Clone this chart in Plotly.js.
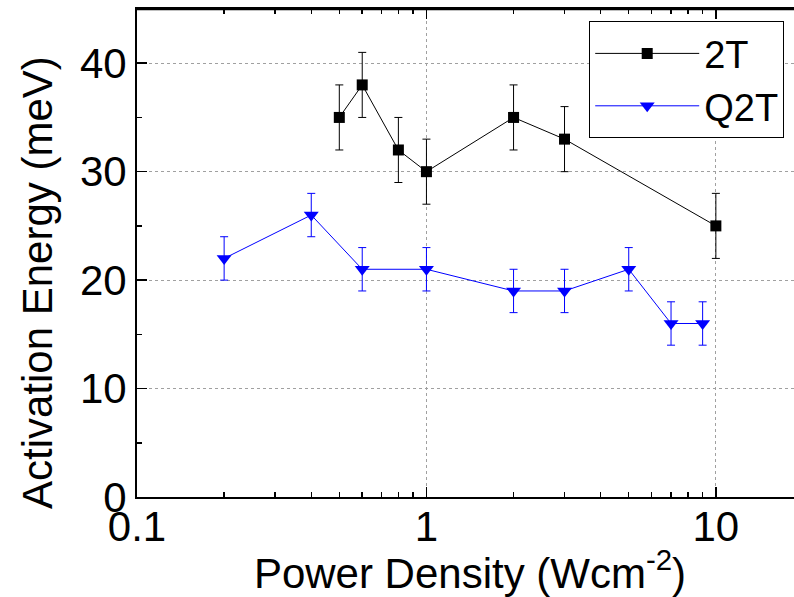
<!DOCTYPE html>
<html>
<head>
<meta charset="utf-8">
<script src="https://cdn.plot.ly/plotly-3.0.1.min.js"></script>
<style>html,body{margin:0;padding:0;overflow:hidden;background:#fff;}</style>
</head>
<body>
<div id="chart" style="width:810px;height:597px;"></div>
<script>
const x2T = [0.5, 0.6, 0.8, 1, 2, 3, 10];
const y2T = [35, 38, 32, 30, 35, 33, 25];
const e2T = [3, 3, 3, 3, 3, 3, 3];

const xQ2T = [0.2, 0.4, 0.6, 1, 2, 3, 5, 7, 9];
const yQ2T = [22, 26, 21, 21, 19, 19, 21, 16, 16];
const eQ2T = [2, 2, 2, 2, 2, 2, 2, 2, 2];

const xTickVals = [0.1, 1, 10];
const xTickText = ['0.1', '1', '10'];
const xMinorVals = [0.2,0.3,0.4,0.5,0.6,0.7,0.8,0.9,2,3,4,5,6,7,8,9,20];
const yTickVals = [0, 10, 20, 30, 40];
const yMinorVals = [5, 15, 25, 35];

const font = 'Liberation Sans, Arial, sans-serif';

const traces = [
  {
    x: x2T, y: y2T, name: '2T', type: 'scatter', mode: 'lines+markers',
    line: {color: '#000000', width: 1},
    marker: {symbol: 'square', size: 11, color: '#000000'},
    error_y: {type: 'data', array: e2T, visible: true, color: '#000000', thickness: 1, width: 4}
  },
  {
    x: xQ2T, y: yQ2T, name: 'Q2T', type: 'scatter', mode: 'lines+markers',
    line: {color: '#0000ff', width: 1},
    marker: {symbol: 'triangle-down', size: 13, color: '#0000ff'},
    error_y: {type: 'data', array: eQ2T, visible: true, color: '#0000ff', thickness: 1, width: 4}
  }
];

const layout = {
  width: 810, height: 597,
  margin: {l: 137, r: 7, t: 9, b: 100},
  paper_bgcolor: '#ffffff', plot_bgcolor: '#ffffff',
  font: {family: font, size: 42, color: '#000000'},
  showlegend: true,
  legend: {
    x: 0.679, y: 0.975, xanchor: 'left', yanchor: 'top',
    bgcolor: '#ffffff', bordercolor: '#000000', borderwidth: 1,
    font: {family: font, size: 38, color: '#000000'},
    itemwidth: 104, tracegroupgap: 0
  },
  xaxis: {
    type: 'log', range: [Math.log10(0.1), Math.log10(20)],
    tickvals: xTickVals, ticktext: xTickText,
    ticks: 'inside', ticklen: 10, tickwidth: 1.5, tickcolor: '#000',
    showline: true, linecolor: '#000', linewidth: 2, mirror: 'allticks',
    showgrid: true, gridcolor: '#a0a0a0', griddash: '3px,3px', gridwidth: 1,
    minor: {ticks: 'inside', ticklen: 5, tickwidth: 1.5, tickcolor: '#000', tickvals: xMinorVals, showgrid: false},
    tickfont: {family: font, size: 42},
    ticklabelstandoff: -8,
    title: {text: 'Power Density (Wcm<sup>-2</sup>)', font: {family: font, size: 42}, standoff: 4},
    zeroline: false
  },
  yaxis: {
    range: [0, 45],
    tickvals: yTickVals,
    ticks: 'inside', ticklen: 10, tickwidth: 1.5, tickcolor: '#000',
    showline: true, linecolor: '#000', linewidth: 2, mirror: false,
    showgrid: true, gridcolor: '#a0a0a0', griddash: '3px,3px', gridwidth: 1,
    minor: {ticks: 'inside', ticklen: 5, tickwidth: 1.5, tickcolor: '#000', tickvals: yMinorVals, showgrid: false},
    tickfont: {family: font, size: 42},
    zeroline: false
  },
  shapes: [{
    type: 'line', xref: 'paper', yref: 'paper', x0: 0, x1: 1, y0: 1, y1: 1,
    line: {color: '#000', width: 2.5}, layer: 'above'
  }],
  annotations: [{
    text: 'Activation Energy (meV)', textangle: -90,
    xref: 'paper', yref: 'paper', x: -0.149, y: 0.44,
    xanchor: 'center', yanchor: 'middle', showarrow: false,
    font: {family: font, size: 42, color: '#000'}
  }]
};

Plotly.newPlot('chart', traces, layout, {displayModeBar: false, staticPlot: true});
</script>
</body>
</html>
